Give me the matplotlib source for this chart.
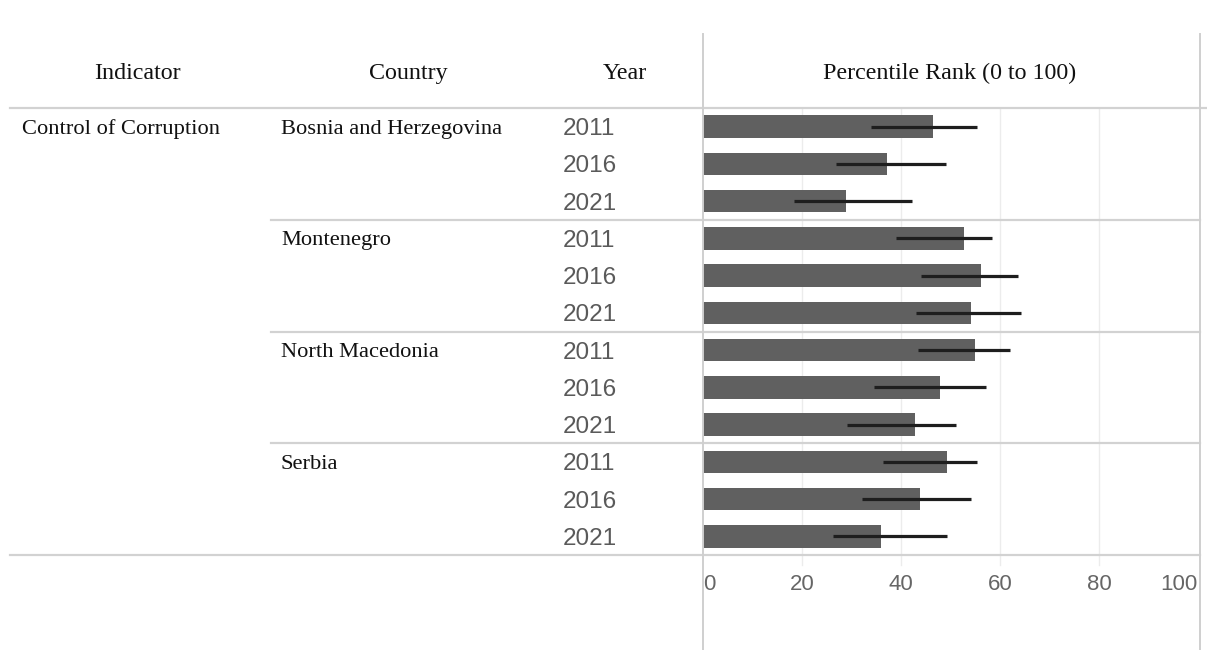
import numpy as np
import matplotlib.pyplot as plt
import matplotlib.transforms as mtransforms

# data
indicator = "Control of Corruption"
countries = ["Bosnia and Herzegovina", "Montenegro", "North Macedonia", "Serbia"]
years = ["2011", "2016", "2021"]
rank = [46.4, 37.1, 28.8,
        52.7, 56.1, 54.2,
        55.0, 47.9, 42.9,
        49.3, 43.8, 35.9]
lower = [33.9, 26.8, 18.4,
         39.0, 44.0, 43.1,
         43.5, 34.5, 29.0,
         36.4, 32.2, 26.3]
upper = [55.3, 49.0, 42.3,
         58.4, 63.6, 64.3,
         62.0, 57.2, 51.2,
         55.3, 54.2, 49.3]
ticks = [0, 20, 40, 60, 80, 100]

W, H = 1207, 650
fig = plt.figure(figsize=(W / 100, H / 100), dpi=100)
fig.patch.set_facecolor("white")

# plot area in pixels
x0, x1 = 703, 1198
ytop, ybot = 108, 555
ax = fig.add_axes([x0 / W, 1 - ybot / H, (x1 - x0) / W, (ybot - ytop) / H])

n = len(rank)
ypos = np.arange(n)
ax.set_xlim(0, 100)
ax.set_ylim(n - 0.5, -0.5)

ax.barh(ypos, rank, height=0.6, color="#606060", zorder=2)
ax.hlines(ypos, lower, upper, color="#1e1e1e", linewidth=2.3, zorder=3)

for t in ticks[1:-1]:
    ax.plot([t, t], [-0.5, n - 0.5], color="#ececec", lw=1, zorder=0)
    ax.plot([t, t], [1 - ybot / H, 1 - 565 / H], color="#ececec", lw=1,
            transform=mtransforms.blended_transform_factory(ax.transData, fig.transFigure),
            clip_on=False)

ax.set_xticks([])
ax.set_yticks([])
for s in ax.spines.values():
    s.set_visible(False)

sans = "Liberation Sans"
serif = "Liberation Serif"
grey = "#5a5a5a"

# tick labels (Tableau-style: first left, last right)
has = ["left", "center", "center", "center", "center", "right"]
for t, ha in zip(ticks, has):
    ax.text(t, n - 0.5 + 0.5, str(t), ha=ha, va="top",
            fontsize=16, family=sans, color="#666666")

# lines drawn in figure coordinates
def hline(xa, xb, ypix, color="#d2d2d2", lw=1.6):
    fig.add_artist(plt.Line2D([xa / W, xb / W], [1 - ypix / H, 1 - ypix / H],
                              color=color, lw=lw))

def vline(xpix, ya, yb, color="#cfcfcf", lw=1.4):
    fig.add_artist(plt.Line2D([xpix / W, xpix / W], [1 - ya / H, 1 - yb / H],
                              color=color, lw=lw))

hline(10, 1207, ytop)
hline(10, 1200, ybot)
row_h = (ybot - ytop) / n
for g in range(1, len(countries)):
    hline(271, 1200, ytop + row_h * 3 * g)
vline(x0, 34, H)
vline(1200, 34, H)

# header (shared baseline)
hy = 1 - 79 / H
hdr = dict(ha="center", va="baseline", fontsize=17.3, family=serif, color="#111111")
fig.text(137 / W, hy, "Indicator", **hdr)
fig.text(408 / W, hy, "Country", **hdr)
fig.text(625 / W, hy, "Year", **hdr)
fig.text(950 / W, hy, "Percentile Rank (0 to 100)", **hdr)

# table body
def row_y(i):
    return 1 - (ytop + row_h * (i + 0.5) + 2.5) / H

body = dict(ha="left", va="center", fontsize=16.2, family=serif, color="#111111")
fig.text(22 / W, row_y(0), indicator, **body)
for g, c in enumerate(countries):
    fig.text(281 / W, row_y(g * 3), c, **body)
    for k, yr in enumerate(years):
        fig.text(563 / W, row_y(g * 3 + k), yr, ha="left", va="center", fontsize=17.5,
                 family=sans, color=grey)

fig.savefig("out.png", dpi=100)
